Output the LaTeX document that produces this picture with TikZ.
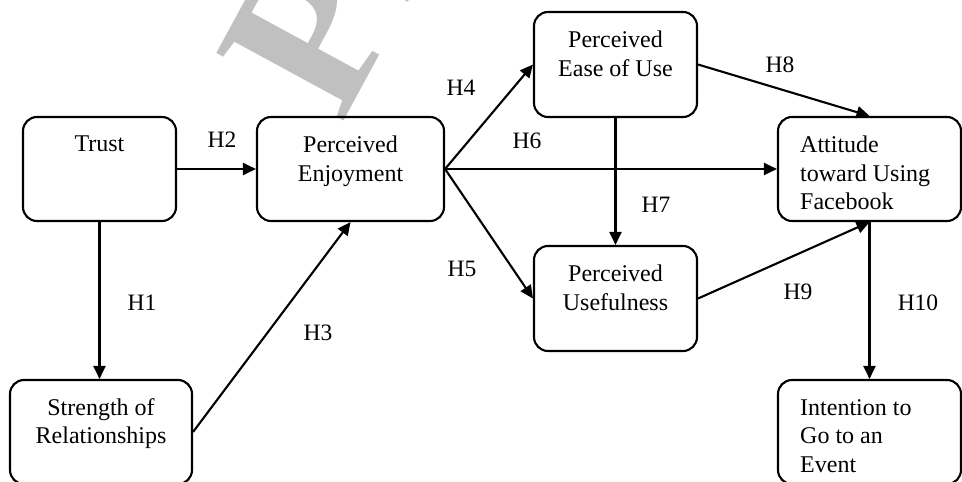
\documentclass[tikz,border=0pt]{standalone}
\usepackage{fontspec}
\setmainfont{Liberation Serif}
\usetikzlibrary{arrows.meta}
\definecolor{wmgray}{RGB}{192,192,192}
\begin{document}
\begin{tikzpicture}[x=1pt,y=-1pt,
  box/.style={draw, line width=2.1pt, rounded corners=14pt, inner sep=0pt},
  ctext/.style={font=\fontsize{24}{28.5}\selectfont, align=center, anchor=north, inner sep=0pt},
  ltext/.style={font=\fontsize{24}{28.5}\selectfont, align=left, anchor=north west, inner sep=0pt},
  hyp/.style={font=\fontsize{23.5}{26}\selectfont, inner sep=0pt},
  arr/.style={line width=2.1pt, -{Triangle[length=13pt,width=12pt]}},
  wm/.style={text=wmgray, font=\fontsize{220}{220}\selectfont\bfseries, inner sep=0pt, rotate=61.5, anchor=base west},
]
\useasboundingbox (0,0) rectangle (962,482);
% watermark
\node[wm] (wmark) at (341,126) {Pr};
% boxes
\node[box, minimum width=153pt, minimum height=104pt] (trust) at (99.5,169) {};
\node[box, minimum width=187pt, minimum height=104pt] (enjoy) at (350.5,169) {};
\node[box, minimum width=182pt, minimum height=104pt] (strength) at (101,432) {};
\node[box, minimum width=163pt, minimum height=105pt] (ease) at (615.5,64.5) {};
\node[box, minimum width=163pt, minimum height=105pt] (useful) at (615.5,298.5) {};
\node[box, minimum width=183pt, minimum height=104pt] (att) at (869.5,169) {};
\node[box, minimum width=183pt, minimum height=104pt] (intent) at (869.5,432) {};
% texts
\node[ctext] (ttrust) at (99.5,136) {Trust};
\node[ctext] (tenjoy) at (350.5,136) {Perceived\\Enjoyment};
\node[ctext] (tstrength) at (101,398) {Strength of\\Relationships};
\node[ctext] (tease) at (615.5,31) {Perceived\\Ease of Use};
\node[ctext] (tuseful) at (615.5,265) {Perceived\\Usefulness};
\node[ltext] (tatt) at (800,136) {Attitude\\toward Using\\Facebook};
\node[ltext] (tintent) at (800,399) {Intention to\\Go to an\\Event};
% connectors
\draw[arr] (trust.south) -- (trust.south |- strength.north);
\draw[arr] (trust.east) -- (enjoy.west);
\draw[arr] (strength.east) -- (enjoy.south);
\draw[arr] (enjoy.east) -- (ease.west);
\draw[arr] (enjoy.east) -- (att.west);
\draw[arr] (enjoy.east) -- (useful.west);
\draw[arr] (ease.south) -- (useful.north);
\draw[arr] (ease.east) -- (att.north);
\draw[arr] (useful.east) -- (att.south);
\draw[arr] (att.south) -- (intent.north);
% hypothesis labels
\node[hyp] (h1) at (142,303) {H1};
\node[hyp] (h2) at (222,140) {H2};
\node[hyp] (h3) at (318,333) {H3};
\node[hyp] (h4) at (461,88) {H4};
\node[hyp] (h5) at (462,269) {H5};
\node[hyp] (h6) at (527,141) {H6};
\node[hyp] (h7) at (656,205) {H7};
\node[hyp] (h8) at (780,65) {H8};
\node[hyp] (h9) at (798,292) {H9};
\node[hyp] (h10) at (918,303) {H10};
\end{tikzpicture}
\end{document}
